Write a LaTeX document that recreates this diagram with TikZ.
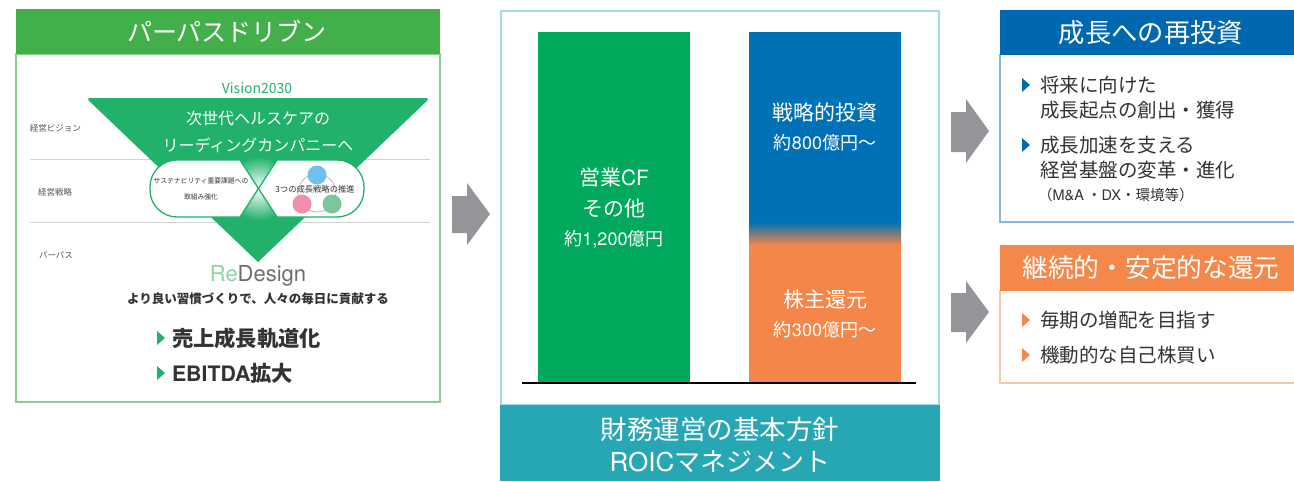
\documentclass[tikz,border=0pt]{standalone}
\usepackage{fontspec}
\setmainfont{Noto Sans CJK JP}
\newfontfamily\hel{TeX Gyre Heros}
\definecolor{hdrgreen}{HTML}{42AF4B}
\definecolor{panelgreen}{HTML}{8ACF8C}
\definecolor{trigreen}{HTML}{22B16B}
\definecolor{cfgreen}{HTML}{00A95C}
\definecolor{invblue}{HTML}{0071B6}
\definecolor{retorange}{HTML}{F5864A}
\definecolor{footteal}{HTML}{27A6B4}
\definecolor{midborder}{HTML}{A6DCE4}
\definecolor{hblue}{HTML}{0068B1}
\definecolor{hblueborder}{HTML}{86B8DF}
\definecolor{horange}{HTML}{F4874A}
\definecolor{horangeborder}{HTML}{F8C6A8}
\definecolor{arrowgray}{HTML}{939598}
\definecolor{txt}{HTML}{333333}
\definecolor{labtxt}{HTML}{555555}
\definecolor{linegray}{HTML}{D2D2D2}
\definecolor{redgreen}{HTML}{8FD4A8}
\definecolor{redgray}{HTML}{6D6E71}
\definecolor{cblue}{HTML}{6EC1EC}
\definecolor{cpink}{HTML}{F08FAA}
\definecolor{cgreen}{HTML}{7DC59A}
\newcommand{\fsz}[1]{\fontsize{#1}{#1}\selectfont}
\newcommand{\lt}[1]{{\hel #1}}
\begin{document}
\begin{tikzpicture}[x=1pt,y=-1pt,
  every node/.style={inner sep=0pt, outer sep=0pt},
  hdr/.style={text=white, font=\fsz{25.5}},
  bartxt/.style={text=white, font=\fsz{21}},
  barnum/.style={text=white, font=\fsz{18}},
  bultxt/.style={text=txt, font=\fsz{19.5}, anchor=west},
  sidelab/.style={text=labtxt, font=\fsz{8.5}, anchor=west},
  blockarrow/.style={fill=arrowgray},
  pill/.style={fill=white, draw=trigreen, line width=1.3pt}
]
\useasboundingbox (0,0) rectangle (1294,482);

% ---------------- left panel ----------------
\draw[panelgreen, line width=1.2pt] (16,54) rectangle (440,402);
\fill[hdrgreen] (16,9) rectangle (440,54);
\node[hdr, font=\fsz{25}] (lhdr) at (227,31.5) {パーパスドリブン};

\draw[linegray, line width=0.8pt] (30,159) -- (430,159);
\draw[linegray, line width=0.8pt] (30,222) -- (430,222);

\node[sidelab] (lab1) at (30,128) {経営ビジョン};
\node[sidelab] (lab2) at (38,192) {経営戦略};
\node[sidelab] (lab3) at (39,255) {パーパス};

\node[text=trigreen, font=\fsz{14}] (vis) at (257,88) {Vision2030};

\fill[trigreen] (258,262) [rounded corners=4pt] -- (86,98) -- (430,98) [sharp corners] -- cycle;
\begin{scope}
  \clip (258,262) -- (86,98) -- (430,98) -- cycle;
  \shade[inner color=white, outer color=trigreen] (258.5,188.5) circle (32);
\end{scope}

\node[text=white, font=\fsz{16}] (vt1) at (258,118) {次世代ヘルスケアの};
\node[text=white, font=\fsz{16}] (vt2) at (258,145) {リーディングカンパニーへ};

\path[pill] (240,160) [rounded corners=27pt] -- (150,160) -- (150,217) [sharp corners] -- (240,217) -- (258.5,188.5) -- cycle;
\path[pill] (277,160) [rounded corners=27pt] -- (364,160) -- (364,217) [sharp corners] -- (277,217) -- (258.5,188.5) -- cycle;

\node[text=txt, font=\fsz{6.8}] (p1a) at (201,181) {サステナビリティ重要課題への};
\node[text=txt, font=\fsz{6.8}] (p1b) at (201,197) {取組み強化};

\draw[linegray!80!black, line width=0.6pt] (317,193) circle (19);
\fill[cblue] (317,175) circle (9.5);
\fill[cpink] (302,204) circle (9.5);
\fill[cgreen] (332,204) circle (9.5);
\node[text=txt, font=\fsz{8.3}] (p2) at (315,189) {3つの成長戦略の推進};

\node[font=\hel\fsz{22}] (redesign) at (258,276) {\textcolor{redgreen}{Re}\textcolor{redgray}{Design}};
\node[text=txt, font=\bfseries\fsz{12.5}] (purp) at (258,299) {より良い習慣づくりで、人々の毎日に貢献する};

\fill[trigreen] (157,331) -- (165,338) -- (157,345) -- cycle;
\node[text=txt, font=\bfseries\fsz{21.3}, anchor=west] (lb1) at (172,338) {売上成長軌道化};
\fill[trigreen] (157,366) -- (165,373) -- (157,380) -- cycle;
\node[text=txt, font=\bfseries\fsz{21.3}, anchor=west] (lb2) at (172,373) {\lt{EBITDA}拡大};

% ---------------- arrows ----------------
\fill[blockarrow] (452,196) -- (467,196) -- (467,183) -- (490,214) -- (467,245) -- (467,233) -- (452,233) -- cycle;
\fill[blockarrow] (951,112) -- (966,112) -- (966,99) -- (989,131) -- (966,163) -- (966,152) -- (951,152) -- cycle;
\fill[blockarrow] (951,293) -- (966,293) -- (966,281) -- (989,312) -- (966,343) -- (966,332) -- (951,332) -- cycle;

% ---------------- middle panel ----------------
\draw[midborder, line width=1.2pt] (501,11) rectangle (939,405);
\fill[footteal] (500,405) rectangle (940,481);
\node[hdr, font=\fsz{26.5}] (f1) at (720,429) {財務運営の基本方針};
\node[hdr, font=\fsz{26}] (f2) at (720,462) {\lt{ROIC}マネジメント};

\fill[cfgreen] (538,32) rectangle (690,383);
\fill[invblue] (749,32) rectangle (901,222);
\shade[top color=invblue, bottom color=retorange] (749,222) rectangle (901,245);
\fill[retorange] (749,245) rectangle (901,383);
\draw[black, line width=1.3pt] (522,383) -- (916,383);

\node[bartxt] (cf1) at (614,178) {営業\lt{CF}};
\node[bartxt] (cf2) at (614,209) {その他};
\node[barnum] (cf3) at (614,239) {約\lt{1,200}億円};
\node[bartxt] (iv1) at (825,113) {戦略的投資};
\node[barnum] (iv2) at (825,143) {約\lt{800}億円〜};
\node[bartxt] (sr1) at (825,300) {株主還元};
\node[barnum] (sr2) at (825,330) {約\lt{300}億円〜};

% ---------------- right top ----------------
\draw[hblueborder, line width=1.2pt] (1296,222) -- (1000,222) -- (1000,54);
\fill[hblue] (1000,10) rectangle (1294,55);
\node[hdr, font=\fsz{26.3}] (rh1) at (1151,33) {成長への再投資};
\fill[hblue] (1022,78) -- (1030,85) -- (1022,92) -- cycle;
\node[bultxt] (r1a) at (1040,85) {将来に向けた};
\node[bultxt] (r1b) at (1040,110) {成長起点の創出・獲得};
\fill[hblue] (1022,138) -- (1030,145) -- (1022,152) -- cycle;
\node[bultxt] (r1c) at (1040,145) {成長加速を支える};
\node[bultxt] (r1d) at (1040,170) {経営基盤の変革・進化};
\node[bultxt, font=\fsz{14.5}] (r1e) at (1038,195) {（\lt{M\&A} ・\lt{DX}・環境等）};

% ---------------- right bottom ----------------
\draw[horangeborder, line width=1.2pt] (1296,383) -- (1000,383) -- (1000,290);
\fill[horange] (1000,245) rectangle (1294,291);
\node[hdr, font=\fsz{25.7}] (rh2) at (1151,268) {継続的・安定的な還元};
\fill[horange] (1022,313) -- (1030,320) -- (1022,327) -- cycle;
\node[bultxt] (r2a) at (1040,320) {毎期の増配を目指す};
\fill[horange] (1022,348) -- (1030,355) -- (1022,362) -- cycle;
\node[bultxt] (r2b) at (1040,355) {機動的な自己株買い};
\end{tikzpicture}
\end{document}
